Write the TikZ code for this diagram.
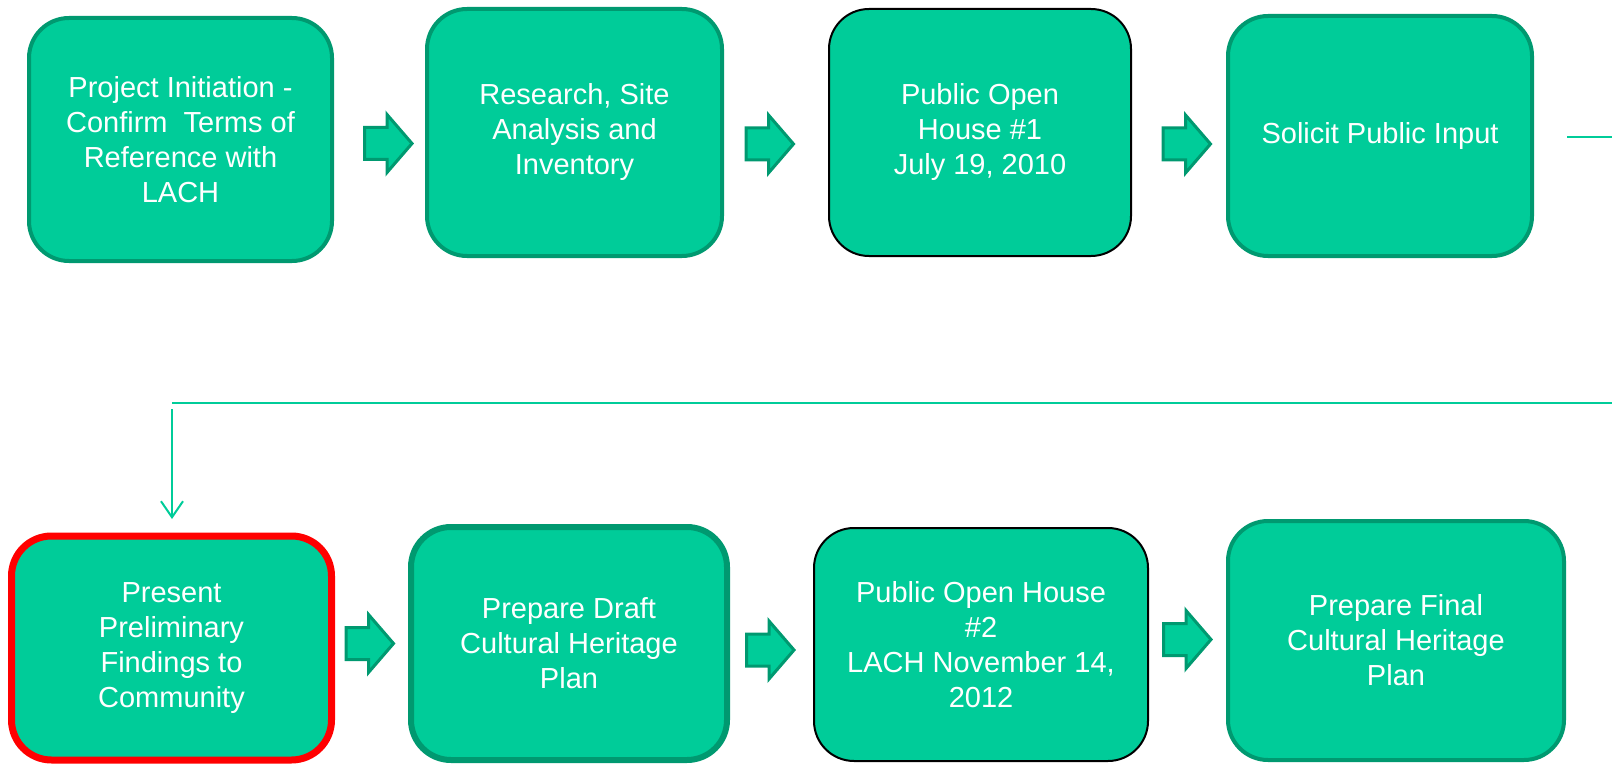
\documentclass[tikz,border=0pt]{standalone}
\usepackage{fontspec}
\setmainfont{Liberation Sans}
\usetikzlibrary{arrows.meta}
\definecolor{boxfill}{RGB}{0,204,153}
\definecolor{boxdark}{RGB}{0,153,112}
\definecolor{connc}{RGB}{0,204,153}
\tikzset{
  stagebox/.style={rectangle, rounded corners=20pt, fill=boxfill, draw=boxdark,
    line width=2pt, align=center, text=white, inner sep=0pt,
    font=\fontsize{14.5}{17.5}\selectfont},
  blackbox/.style={stagebox, draw=black, line width=1pt},
  redbox/.style={stagebox, draw=red, line width=3.5pt},
  thickbox/.style={stagebox, line width=3pt},
  conn/.style={draw=connc, line width=1pt},
  barrow/.pic={\draw[line width=1.5pt, draw=boxdark, fill=boxfill, line join=miter]
    (-24.5,-16) -- (-2,-16) -- (-2,-29) -- (23,0) -- (-2,29) -- (-2,16) -- (-24.5,16) -- cycle;}
}
\begin{document}
\begin{tikzpicture}[x=0.5pt,y=-0.5pt]
\useasboundingbox (0,0) rectangle (1612,765);
% top row
\node[stagebox, minimum width=151.5pt, minimum height=121.5pt] (b1) at (180.5,139.5)
  {Project Initiation -\\Confirm\ \ Terms of\\Reference with\\LACH};
\node[stagebox, minimum width=147.5pt, minimum height=123.5pt] (b2) at (574.5,132.5)
  {Research, Site\\Analysis and\\Inventory};
\node[blackbox, minimum width=151pt, minimum height=123.5pt] (b3) at (980,132.5)
  {Public Open\\House \#1\\July 19, 2010};
\node[stagebox, minimum width=152pt, minimum height=120pt] (b4) at (1380,136)
  {Solicit Public Input};
% bottom row
\node[redbox, minimum width=160pt, minimum height=112pt] (b5) at (171.5,648)
  {Present\\Preliminary\\Findings to\\Community};
\node[thickbox, minimum width=158pt, minimum height=116.5pt] (b6) at (569,643.5)
  {Prepare Draft\\Cultural Heritage\\Plan};
\node[blackbox, minimum width=167pt, minimum height=116.5pt] (b7) at (981,644.5)
  {Public Open House\\\#2\\LACH November 14,\\2012};
\node[stagebox, minimum width=168pt, minimum height=119.5pt] (b8) at (1396,640.5)
  {Prepare Final\\Cultural Heritage\\Plan};
% block arrows
\pic at (389,143.5) {barrow};
\pic at (770.5,144) {barrow};
\pic at (1187.5,144) {barrow};
\pic at (370.5,643.5) {barrow};
\pic at (771,650) {barrow};
\pic at (1188,639.5) {barrow};
% connector from b4 to b5
\coordinate (c1) at (1567,137);
\coordinate (c2) at (1612,137);
\coordinate (c3) at (1612,403);
\coordinate (c4) at (172,403);
\coordinate (c5) at (172,409);
\coordinate (c6) at (172,519);
\draw[conn] (c1) -- (c2);
\draw[conn] (c4) -- (c3);
\draw[conn, -{Straight Barb[length=8pt,width=11pt]}] (c5) -- (c6);
\end{tikzpicture}
\end{document}
